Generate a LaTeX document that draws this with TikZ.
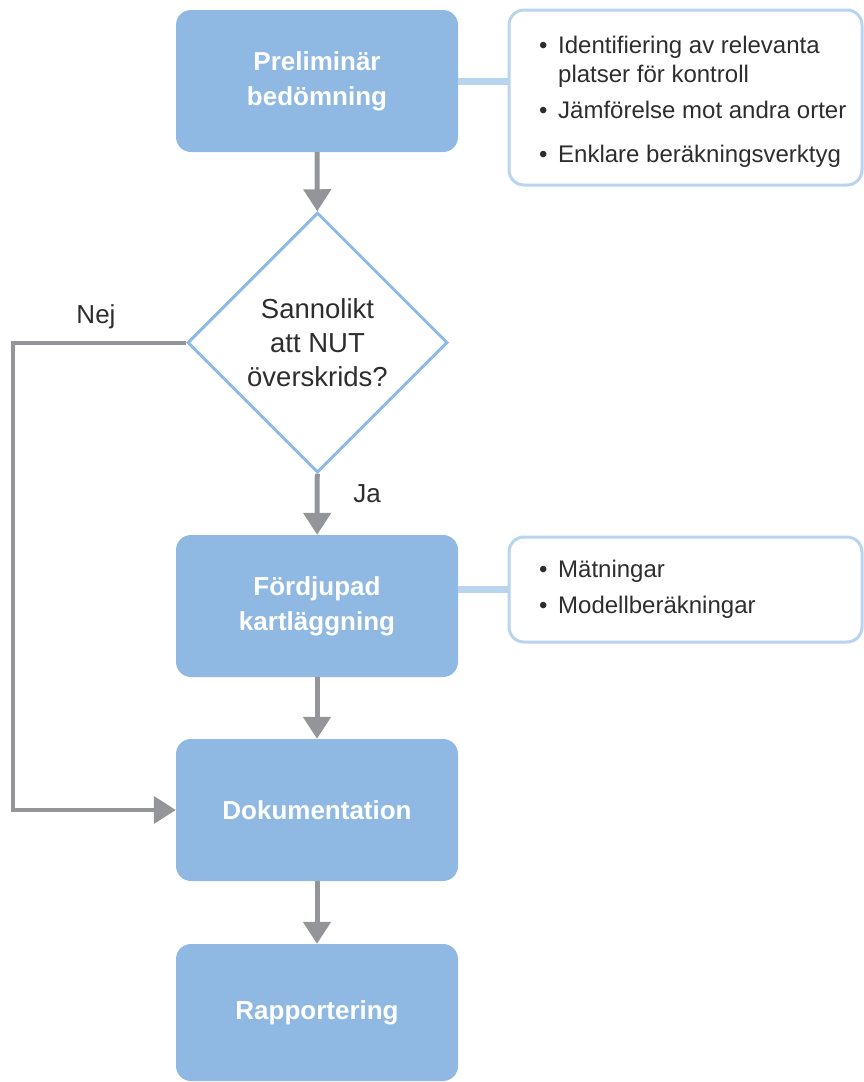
\documentclass[tikz,border=0pt]{standalone}
\usepackage{fontspec}
\setmainfont{Liberation Sans}
\usetikzlibrary{shapes.geometric, arrows.meta}

\definecolor{boxblue}{RGB}{143,185,227}
\definecolor{ramblue}{RGB}{141,186,230}
\definecolor{infoblue}{RGB}{184,212,238}
\definecolor{pilgray}{RGB}{147,149,152}
\definecolor{textgray}{RGB}{45,45,45}

\newcommand{\punkt}{\makebox[19pt][l]{•}}

\begin{document}
\begin{tikzpicture}[x=1pt, y=-1pt,
    steg/.style={rectangle, rounded corners=15pt, fill=boxblue, text=white, font=\fontsize{26}{35}\selectfont\bfseries, align=center, minimum width=282pt, minimum height=142pt, inner sep=0pt},
    fraga/.style={diamond, draw=ramblue, line width=3pt, minimum width=260pt, minimum height=260pt, inner sep=0pt, text=textgray, font=\fontsize{27.5}{34}\selectfont, align=center},
    info/.style={rectangle, rounded corners=15pt, draw=infoblue, line width=3pt, minimum width=353pt, inner sep=0pt},
    lista/.style={text=textgray, font=\fontsize{24}{29}\selectfont, align=left, inner sep=0pt},
    pil/.style={draw=pilgray, line width=5pt, -{Triangle[width=27pt,length=22pt]}},
    koppling/.style={draw=infoblue, line width=7pt},
    etikett/.style={text=textgray, font=\fontsize{26}{30}\selectfont, inner sep=0pt}]
    \useasboundingbox (0,0) rectangle (864,1082);

    \node[steg] (prelim) at (317,81) {Preliminär\\bedömning};
    \node[fraga] (beslut) at (317.5,342.5) {Sannolikt\\att NUT\\överskrids?};
    \node[steg] (fordjup) at (317,606) {Fördjupad\\kartläggning};
    \node[steg] (dok) at (317,810) {Dokumentation};
    \node[steg, minimum height=137pt] (rapp) at (317,1012.5) {Rapportering};

    \node[info, minimum height=175pt] (info1) at (685.5,97.5) {};
    \node[lista, anchor=base west] (lista1) at (539,162) {\punkt Identifiering av relevanta\\
        \hspace*{19pt}platser för kontroll\\[7pt]
        \punkt Jämförelse mot andra orter\\[15pt]
        \punkt Enklare beräkningsverktyg};
    \node[info, minimum height=105pt] (info2) at (685.5,589.5) {};
    \node[lista, anchor=base west] (lista2) at (539,613) {\punkt Mätningar\\[7pt]
        \punkt Modellberäkningar};

    \draw[koppling] (prelim.east) -- (prelim.east -| info1.west);
    \draw[koppling] (info2.west -| fordjup.east) -- (info2.west);

    \draw[pil] (prelim) -- (beslut);
    \draw[pil] (beslut) -- (fordjup);
    \draw[pil] (fordjup) -- (dok);
    \draw[pil] (dok) -- (rapp);
    \coordinate (nejhorn) at (13,342.5);
    \draw[pil, line width=4pt] (beslut.west) -- (nejhorn) |- (dok.west);

    \node[etikett, anchor=base] (nej) at (96,323) {Nej};
    \node[etikett, anchor=base] (ja) at (367,502) {Ja};
\end{tikzpicture}
\end{document}
